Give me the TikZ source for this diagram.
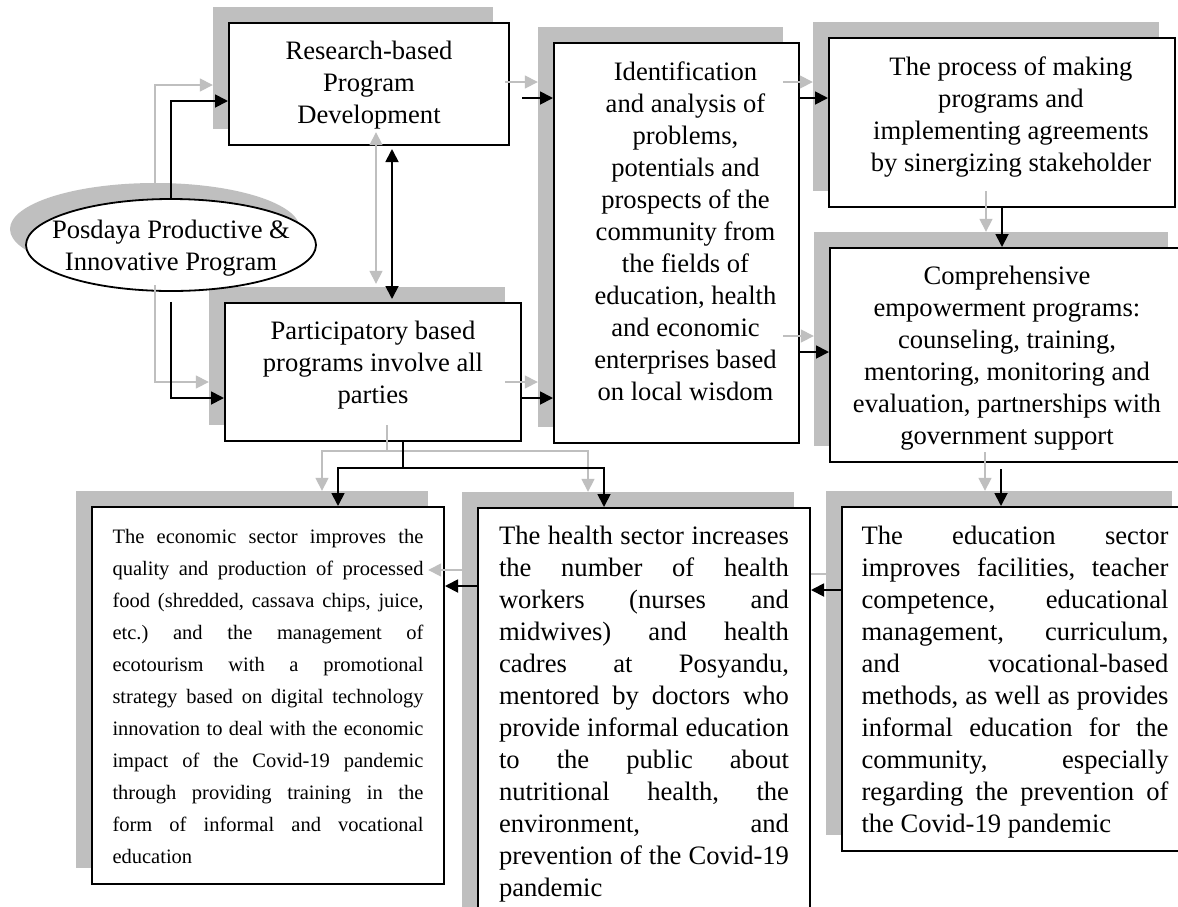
\documentclass[tikz,border=0pt]{standalone}
\usepackage{fontspec}
\setmainfont{Liberation Serif}
\usetikzlibrary{arrows.meta,shapes.geometric,calc}
\definecolor{shgray}{RGB}{191,191,191}
\frenchspacing
\newcommand{\jline}[1]{\makebox[\linewidth][s]{#1}\par}
\newcommand{\lline}[1]{\makebox[\linewidth][l]{#1}\par}
\newcommand{\boxctr}[4]{\parbox[c][#2][t]{#1}{\vspace*{18.5pt}\centering\advance\leftskip by #3\relax #4\par}}
\newcommand{\boxjus}[4]{\parbox[c][#2][t]{#1}{\vspace*{#3}#4}}
\tikzset{
  shadowbox/.style={rectangle, fill=shgray, draw=none, inner sep=0pt},
  boxnode/.style={rectangle, fill=white, draw=black, line width=2pt, inner sep=0pt,
    font=\fontsize{26.6pt}{32pt}\selectfont},
  blk/.style={draw=black, line width=1.8pt, -{Triangle[length=13pt,width=13pt]}},
  gry/.style={draw=shgray, line width=1.6pt, -{Triangle[length=13pt,width=13pt]}},
  dbl/.style={{Triangle[length=13pt,width=13pt]}-{Triangle[length=13pt,width=13pt]}, shorten <=3pt, shorten >=3pt}
}
\begin{document}
\begin{tikzpicture}[x=1pt,y=-1pt]
\useasboundingbox (0,0) rectangle (1178,906);
\fill[white] (0,0) rectangle (1178,906);
\clip (0,0) rectangle (1178,906);

% shadows
\node[shadowbox, minimum width=280pt, minimum height=122pt] (Rs) at (353,68) {};
\node[shadowbox, minimum width=296pt, minimum height=138pt] (Ps) at (357,356) {};
\node[ellipse, fill=shgray, inner sep=0pt, minimum width=290pt, minimum height=92pt] (Es) at (155,229) {};
\node[shadowbox, minimum width=245pt, minimum height=400pt] (Is) at (660.5,227) {};
\node[shadowbox, minimum width=346pt, minimum height=169pt] (Prs) at (986,106.5) {};
\node[shadowbox, minimum width=354pt, minimum height=214pt] (Cs) at (991,339) {};
\node[shadowbox, minimum width=352pt, minimum height=377pt] (Ecs) at (252,679.5) {};
\node[shadowbox, minimum width=332pt, minimum height=422pt] (Hs) at (628,703) {};
\node[shadowbox, minimum width=346pt, minimum height=344pt] (Eds) at (999,663) {};

% shadow arrow hidden under the health box
\coordinate (ge1) at ($(Eds.west)+(0,-89)$);
\draw[gry] (ge1) -- (ge1 -| Hs.east);

% boxes
\node[boxnode] (R) at (369,84) {\boxctr{280pt}{122pt}{0pt}{Research-based\\Program\\Development}};
\node[boxnode] (P) at (373,372) {\boxctr{296pt}{138pt}{0pt}{Participatory based\\programs involve all\\parties}};
\node[ellipse, draw=black, fill=white, line width=1.8pt, inner sep=0pt, minimum width=290pt, minimum height=92pt,
  font=\fontsize{26.6pt}{32pt}\selectfont] (E) at (171,245)
  {\makebox[0pt]{\raisebox{-9.5pt}[0pt][0pt]{\begin{tabular}{@{}c@{}}Posdaya Productive \&\\Innovative Program\end{tabular}}}};
\node[boxnode] (I) at (676.5,243) {\boxctr{245pt}{400pt}{18pt}{Identification\\and analysis of\\problems,\\potentials and\\prospects of the\\community from\\the fields of\\education, health\\and economic\\enterprises based\\on local wisdom}};
\node[boxnode] (Pr) at (1002,122.5) {\boxctr{346pt}{169pt}{18pt}{The process of making\\programs and\\implementing agreements\\by sinergizing stakeholder}};
\node[boxnode] (C) at (1007,355) {\boxctr{354pt}{214pt}{0pt}{Comprehensive\\empowerment programs:\\counseling, training,\\mentoring, monitoring and\\evaluation, partnerships with\\government support}};
\node[boxnode, inner xsep=20.5pt, font=\fontsize{20.5pt}{32pt}\selectfont] (Ec) at (268,695.5) {\boxjus{311pt}{377pt}{22.7pt}{%
\jline{The economic sector improves the}%
\jline{quality and production of processed}%
\jline{food (shredded, cassava chips, juice,}%
\jline{etc.) and the management of}%
\jline{ecotourism with a promotional}%
\jline{strategy based on digital technology}%
\jline{innovation to deal with the economic}%
\jline{impact of the Covid-19 pandemic}%
\jline{through providing training in the}%
\jline{form of informal and vocational}%
\lline{education}}};
\node[boxnode, inner xsep=21pt] (H) at (644,719) {\boxjus{290pt}{422pt}{18.3pt}{%
\jline{The health sector increases}%
\jline{the number of health}%
\jline{workers (nurses and}%
\jline{midwives) and health}%
\jline{cadres at Posyandu,}%
\jline{mentored by doctors who}%
\jline{provide informal education}%
\jline{to the public about}%
\jline{nutritional health, the}%
\jline{environment, and}%
\jline{prevention of the Covid-19}%
\lline{pandemic}}};
\node[boxnode, inner xsep=19.5pt] (Ed) at (1015,679) {\boxjus{307pt}{344pt}{19pt}{%
\jline{The education sector}%
\jline{improves facilities, teacher}%
\jline{competence, educational}%
\jline{management, curriculum,}%
\jline{and vocational-based}%
\jline{methods, as well as provides}%
\jline{informal education for the}%
\jline{community, especially}%
\jline{regarding the prevention of}%
\lline{the Covid-19 pandemic}}};

% gray shadow connectors
\draw[gry] (Es.north) |- ($(Rs.west)+(0,17)$);
\draw[gry] ($(Es.south)+(0,10)$) |- ($(Ps.west)+(0,26)$);
\draw[gry, dbl] ($(Rs.south)+(23,0)$) -- ($(Ps.north)+(19,0)$);
\coordinate (gr1) at ($(Rs.east)+(12,14)$);
\draw[gry] (gr1) -- (gr1 -| Is.west);
\coordinate (gp1) at ($(Ps.east)+(0,26)$);
\draw[gry] (gp1) -- (gp1 -| Is.west);
\coordinate (gi1) at (Is.east |- gr1);
\draw[gry] (gi1) -- (gi1 -| Prs.west);
\coordinate (gi2) at ($(Is.east)+(0,109)$);
\draw[gry] (gi2) -- (gi2 -| Cs.west);
\draw[gry] (Prs.south) -- (Prs.south |- Cs.north);
\coordinate (gc1) at ($(Cs.south)+(-6,6)$);
\draw[gry] (gc1) -- (gc1 |- Eds.north);
\coordinate (gh1) at ($(Hs.west)+(0,-133)$);
\draw[gry] (gh1) -- (gh1 -| Ecs.east);
\coordinate (gb0) at ($(Ps.south)+(30,0)$);
\coordinate (gb1) at ($(Ps.south)+(30,26)$);
\draw[draw=shgray, line width=1.6pt] (gb0) -- (gb1);
\draw[gry] (gb1) -| ($(Ecs.north)+(70,0)$);
\draw[gry] (gb1) -| ($(Hs.north)+(-40,0)$);

% black connectors
\draw[blk] (E.north) |- ($(R.west)+(0,17)$);
\draw[blk] ($(E.south)+(0,10)$) |- ($(P.west)+(0,26)$);
\draw[blk, dbl] ($(R.south)+(23,0)$) -- ($(P.north)+(19,0)$);
\coordinate (r1) at ($(R.east)+(12,14)$);
\draw[blk] (r1) -- (r1 -| I.west);
\coordinate (p1) at ($(P.east)+(0,26)$);
\draw[blk] (p1) -- (p1 -| I.west);
\coordinate (i1) at (I.east |- r1);
\draw[blk] (i1) -- (i1 -| Pr.west);
\coordinate (i2) at ($(I.east)+(0,109)$);
\draw[blk] (i2) -- (i2 -| C.west);
\draw[blk] (Pr.south) -- (Pr.south |- C.north);
\coordinate (c1) at ($(C.south)+(-6,6)$);
\draw[blk] (c1) -- (c1 |- Ed.north);
\coordinate (e1) at ($(Ed.west)+(0,-89)$);
\draw[blk] (e1) -- (e1 -| H.east);
\coordinate (h1) at ($(H.west)+(0,-133)$);
\draw[blk] (h1) -- (h1 -| Ec.east);
\coordinate (b0) at ($(P.south)+(30,0)$);
\coordinate (b1) at ($(P.south)+(30,26)$);
\draw[draw=black, line width=1.8pt] (b0) -- (b1);
\draw[blk] (b1) -| ($(Ec.north)+(70,0)$);
\draw[blk] (b1) -| ($(H.north)+(-40,0)$);
\end{tikzpicture}
\end{document}
